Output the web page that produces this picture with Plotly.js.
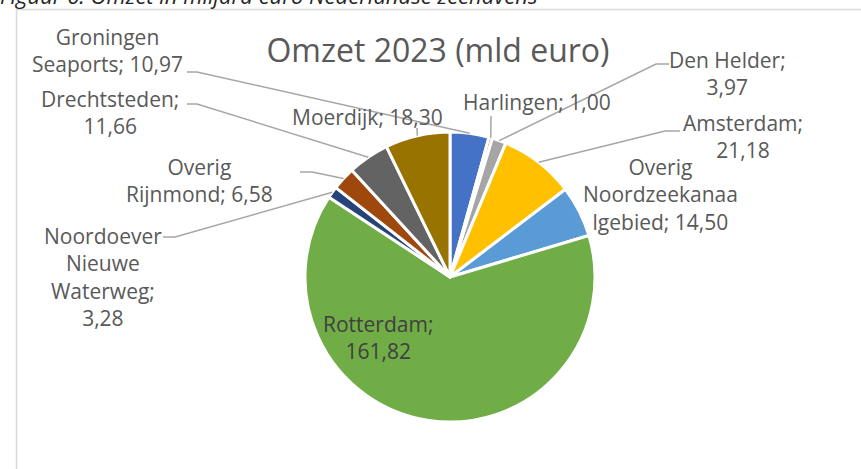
<!DOCTYPE html>
<html><head><meta charset="utf-8">
<script src="https://cdn.plot.ly/plotly-3.0.1.min.js"></script>
<style>html,body{margin:0;padding:0;background:#fff;} #chart{width:861px;height:469px;}</style>
</head><body><div id="chart"></div>
<script>
// ---- data ----
const labels = ['Groningen Seaports','Harlingen','Den Helder','Amsterdam','Overig Noordzeekanaalgebied','Rotterdam','Noordoever Nieuwe Waterweg','Overig Rijnmond','Drechtsteden','Moerdijk'];
const values = [10.97, 1.00, 3.97, 21.18, 14.50, 161.82, 3.28, 6.58, 11.66, 18.30];
const labelText = ['Groningen<br>Seaports; 10,97','Harlingen; 1,00','Den Helder;<br>3,97','Amsterdam;<br>21,18','Overig<br>Noordzeekanaa<br>lgebied; 14,50','Rotterdam;<br>161,82','Noordoever<br>Nieuwe<br>Waterweg;<br>3,28','Overig<br>Rijnmond; 6,58','Drechtsteden;<br>11,66','Moerdijk; 18,30'];
const colors = ['#4472C4','#ED7D31','#A5A5A5','#FFC000','#5B9BD5','#70AD47','#264478','#9E480E','#636363','#997300'];
const chartTitle = 'Omzet 2023 (mld euro)';
const caption = 'Figuur 6: Omzet in miljard euro Nederlandse zeehavens';

// ---- layout (pixel geometry) ----
const W = 861, H = 469;
const CX = 450, CY = 277, R = 145;
const px = x => x / W;
const py = y => 1 - y / H;
// label block centres and leader-line elbows (pixels)
const labelPos = [
  {x:107, y:50,  lead:[[187,72],[197,72]]},
  {x:537, y:102, lead:[[491,116]]},
  {x:727, y:73,  lead:[[669,64],[656,64]]},
  {x:743, y:137, lead:[[680,131],[665,131]]},
  {x:660, y:194, lead:null},
  {x:378, y:337, lead:null, inside:true},
  {x:103, y:277, lead:[[163,237],[175,237]]},
  {x:199, y:180, lead:[[300,172],[312,172]]},
  {x:110, y:113, lead:[[187,104],[197,104]]},
  {x:367, y:117, lead:[[417,128]]}
];

const total = values.reduce((a,b)=>a+b,0);
let cum = 0;
const anchors = values.map(v => {
  const th = (cum + v/2) / total * 2 * Math.PI;
  cum += v;
  return [CX + R*Math.sin(th), CY - R*Math.cos(th)];
});

const annotations = [];
const shapes = [];
labelPos.forEach((p, i) => {
  annotations.push({
    xref:'paper', yref:'paper', x:px(p.x), y:py(p.y), xanchor:'center', yanchor:'middle',
    text:labelText[i], showarrow:false, align:'center',
    font:{family:'Open Sans, sans-serif', size:21, color: p.inside ? '#404040' : '#595959'}
  });
  if (p.lead) {
    const pts = p.lead.concat([anchors[i]]);
    const d = pts.map((q,k)=> (k?'L':'M') + px(q[0]).toFixed(5) + ',' + py(q[1]).toFixed(5)).join(' ');
    shapes.push({type:'path', xref:'paper', yref:'paper', path:d, line:{color:'#A6A6A6', width:1.5}});
  }
});
// caption (cut off at the top of the picture, as in the reference)
annotations.push({
  xref:'paper', yref:'paper', x:px(-2), y:1, xanchor:'left', yanchor:'middle', yshift:5,
  text:'<i>'+caption+'</i>', showarrow:false,
  font:{family:'Open Sans, sans-serif', size:22, color:'#262626'}
});
// chart area border
shapes.push({type:'rect', xref:'paper', yref:'paper', x0:px(16.5), x1:1.05, y0:-0.05, y1:py(9.5),
  line:{color:'#D9D9D9', width:1.5}, fillcolor:'rgba(0,0,0,0)'});

const trace = {
  type:'pie', labels:labels, values:values, sort:false, direction:'clockwise', rotation:0,
  marker:{colors:colors, line:{color:'#FFFFFF', width:3}},
  textinfo:'none', hoverinfo:'label+value', showlegend:false,
  domain:{x:[px(CX-R), px(CX+R)], y:[py(CY+R), py(CY-R)]}
};

const layout = {
  width:W, height:H, margin:{l:0,r:0,t:0,b:0}, paper_bgcolor:'#fff',
  showlegend:false,
  title:{text:chartTitle, font:{family:'Open Sans, sans-serif', size:32, color:'#595959'},
    x:px(438), xanchor:'center', xref:'paper', y:py(51), yref:'paper', yanchor:'middle'},
  annotations:annotations, shapes:shapes
};
Plotly.newPlot('chart', [trace], layout, {displayModeBar:false, staticPlot:true});
</script></body></html>
